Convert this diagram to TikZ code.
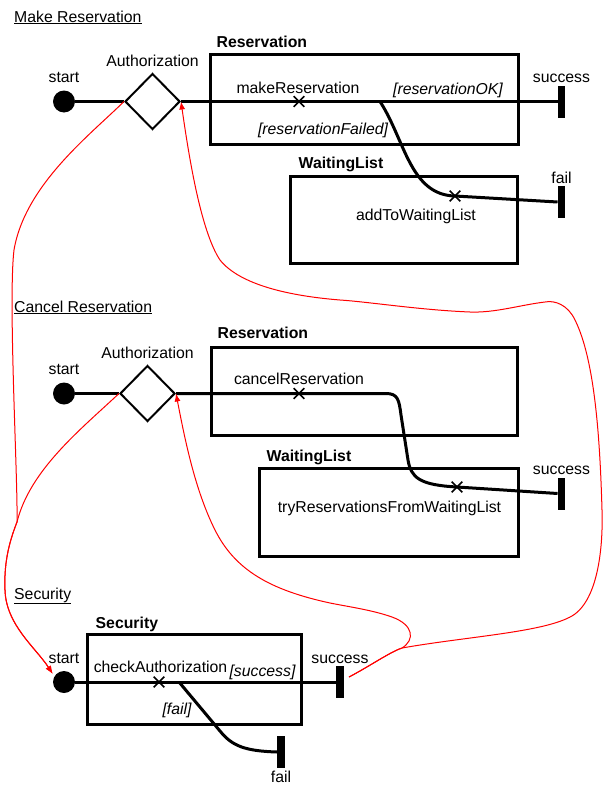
\documentclass[tikz,border=0pt]{standalone}
\usepackage{fontspec}
\setmainfont{Liberation Sans}
\usetikzlibrary{shapes.geometric,shapes.misc,arrows.meta,positioning}
\newcommand{\diagfont}{\fontsize{15.8}{18}\selectfont}

\begin{document}
\begin{tikzpicture}[x=1pt,y=-1pt,font=\diagfont,
	initial/.style={circle,fill,inner sep=0pt,minimum size=22pt},
	decision/.style={diamond,draw,line width=2pt,inner sep=0pt,minimum width=55pt,minimum height=56pt},
	endbar/.style={rectangle,fill,inner sep=0pt,minimum width=7.5pt,minimum height=32pt},
	component/.style={rectangle,draw,line width=3pt,inner sep=0pt},
	xmark/.style={cross out,draw,line width=1.6pt,inner sep=0pt,minimum size=9pt},
	guard/.style={font=\diagfont\itshape},
	boxtitle/.style={anchor=base west,inner sep=0pt,font=\diagfont\bfseries},
	heading/.style={anchor=base west,inner sep=0pt},
	flow/.style={line width=3pt},
	callback/.style={red,line width=1pt,-{Latex[length=8pt,width=6pt]}}]
	\useasboundingbox (0,0) rectangle (603,787);

	% make reservation
	\node[heading] (hmake) at (14,22) {\underline{Make Reservation}};
	\node[component,minimum width=308pt,minimum height=90pt] (res1) at (364,99) {};
	\node[boxtitle] (res1t) at ([shift={(8,-5)}]res1.north west) {Reservation};
	\node[component,minimum width=227pt,minimum height=87pt] (wl1) at (403.5,219.5) {};
	\node[boxtitle] (wl1t) at ([shift={(10,-6)}]wl1.north west) {WaitingList};
	\node[initial,label={[label distance=4pt]above:start}] (start1) at (64,101.5) {};
	\node[decision,label={[label distance=2.5pt]above:Authorization}] (auth1) at (152.5,101.5) {};
	\node[endbar,label={[label distance=-1pt]above:success}] (succ1) at (561.5,101.5) {};
	\node[endbar,label={[label distance=-1pt]above:fail}] (fail1) at (561.5,202) {};
	\coordinate (br1) at (380,101.5);
	\draw[flow] (start1) -- (auth1.west);
	\draw[flow] (auth1.east) -- (succ1.west);
	\draw[flow] (br1) .. controls (405,140) and (410,195) .. (455,196) -- (fail1.west);
	\node[xmark] (mkres) at (299,101.5) {};
	\node (mkrest) at (298,88) {makeReservation};
	\node[guard] (okg) at (448,90) {[reservationOK]};
	\node[guard] (failg) at (323,130) {[reservationFailed]};
	\node[xmark] (addwl) at (455,196) {};
	\node (addwlt) at (416,216) {addToWaitingList};

	% cancel reservation
	\node[heading] (hcancel) at (14,312) {\underline{Cancel Reservation}};
	\node[component,minimum width=306pt,minimum height=88pt] (res2) at (364,391) {};
	\node[boxtitle] (res2t) at ([shift={(8,-7)}]res2.north west) {Reservation};
	\node[component,minimum width=259pt,minimum height=88pt] (wl2) at (388.5,512) {};
	\node[boxtitle] (wl2t) at ([shift={(9,-5)}]wl2.north west) {WaitingList};
	\node[initial,label={[label distance=4pt]above:start}] (start2) at (64,393.5) {};
	\node[decision,label={[label distance=2.5pt]above:Authorization}] (auth2) at (147.5,393.5) {};
	\node[endbar,label={[label distance=-1pt]above:success}] (succ2) at (561.5,493.5) {};
	\draw[flow] (start2) -- (auth2.west);
	\draw[flow] (auth2.east) -- (386,393.5) .. controls (398,393.5) and (399,400) .. (401,415)
		-- (408,460) .. controls (411,478) and (420,485) .. (457,487) -- (succ2.west);
	\node[xmark] (cancelx) at (299,393.5) {};
	\node (cancelt) at (299,379) {cancelReservation};
	\node[xmark] (trywl) at (457,487) {};
	\node (trywlt) at (389.5,508) {tryReservationsFromWaitingList};

	% security
	\node[heading] (hsec) at (14,599) {\underline{Security}};
	\node[component,minimum width=214pt,minimum height=90pt] (secbox) at (194,679) {};
	\node[boxtitle] (sect) at ([shift={(10,-4)}]secbox.north west) {Security};
	\node[initial,label={[label distance=4pt]above:start}] (start3) at (64,682) {};
	\node[endbar,label={[label distance=-1pt]above:success}] (succ3) at (340,682) {};
	\node[endbar,label={[label distance=-0.5pt]below:fail}] (fail3) at (281,752) {};
	\coordinate (br3) at (179,682);
	\draw[flow] (start3) -- (succ3.west);
	\draw[flow] (br3) -- (220,731) .. controls (232,746) and (245,751) .. (fail3.west);
	\node[xmark] (checkx) at (159,682) {};
	\node (checkt) at (160.5,667) {checkAuthorization};
	\node[guard] (succg) at (262.5,672) {[success]};
	\node[guard] (failg3) at (177,710) {[fail]};

	% calls
	\coordinate (ret) at (349,677);
	\draw[callback] (ret) .. controls (370,666) and (390,652) .. (402,648)
		.. controls (470,636) and (550,632) .. (575,614)
		.. controls (600,595) and (603,540) .. (602,510)
		.. controls (600,440) and (595,360) .. (575,320)
		.. controls (568,305) and (555,300) .. (545,302)
		.. controls (520,305) and (495,313) .. (470,312)
		.. controls (420,310) and (370,302) .. (340,300)
		.. controls (290,296) and (240,285) .. (220,260)
		.. controls (200,230) and (188,150) .. (auth1.east);
	\draw[callback] (ret) .. controls (370,666) and (390,652) .. (402,648)
		.. controls (415,640) and (414,625) .. (392,617)
		.. controls (372,610) and (350,607) .. (330,603)
		.. controls (270,590) and (235,570) .. (215,530)
		.. controls (195,490) and (185,440) .. (auth2.east);
	\draw[callback,shorten >=3pt] (auth1.west) .. controls (90,135) and (25,185) .. (14,250)
		.. controls (8,300) and (18,480) .. (17,522)
		.. controls (8,545) and (4,565) .. (5,590)
		.. controls (6,625) and (36,648) .. (start3.150);
	\draw[callback,shorten >=3pt] (auth2.west) .. controls (80,430) and (30,470) .. (17,522)
		.. controls (8,545) and (4,565) .. (5,590)
		.. controls (6,625) and (36,648) .. (start3.150);
\end{tikzpicture}
\end{document}
